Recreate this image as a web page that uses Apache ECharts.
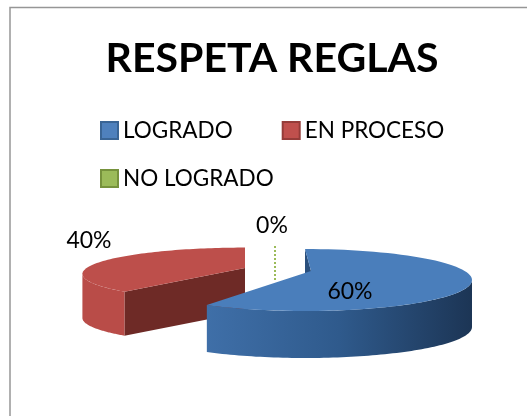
<!DOCTYPE html>
<html>
<head>
<meta charset="utf-8">
<style>
html, body { margin: 0; padding: 0; background: #fff; }
#chart { width: 527px; height: 416px; }
</style>
<script src="https://cdn.jsdelivr.net/npm/echarts@6/dist/echarts.min.js"></script>
</head>
<body>
<div id="chart"></div>
<script>
var categories = ['LOGRADO', 'EN PROCESO', 'NO LOGRADO'];
var percents = [60, 40, 0];

// how each slice is projected (the picture is a fake 3d pie with exploded slices)
var sliceLook = [
    { cx: 305, cy: 280, rx: 167, ry: 31, k: 0, ax: 311, ay: 271, h: 47, z: 3,
      top: '#4a7ebb', side: ['#3f6fa8', '#2f5a8c', '#1c3555'], cut: '#2a4f7c', label: [350, 292] },
    { cx: 245, cy: 266, rx: 155, ry: 24, k: 0.302, ax: 245, ay: 268, h: 44, z: 2,
      top: '#bd4f4b', side: ['#b94c48', '#b94c48', '#b94c48'], cut: '#6e2a26', label: [89, 241] },
    { cx: 275, cy: 280, rx: 0, ry: 35, k: 0, ax: 275, ay: 280, h: 0, z: 1,
      top: '#9bbb59', side: ['#9bbb59', '#9bbb59', '#9bbb59'], cut: '#9bbb59', label: [272, 226] }
];
var legendColors = [
    { fill: '#4f81bd', line: '#3a6595' },
    { fill: '#c0504d', line: '#953c39' },
    { fill: '#9bbb59', line: '#76923c' }
];

var total = percents.reduce(function (a, b) { return a + b; }, 0);

function rimPoint(look, angle) {
    var s = 1 / (1 + look.k * Math.cos(angle));
    return [look.cx + look.rx * Math.sin(angle) * s, look.cy - look.ry * Math.cos(angle) * s];
}

function makeRenderItem(index) {
    var before = 0;
    for (var i = 0; i < index; i++) before += percents[i];
    var look = sliceLook[index];
    return function (params, api) {
        var value = api.value(0);
        var start = before / total * Math.PI * 2;
        var end = (before + value) / total * Math.PI * 2;
        var label = {
            type: 'text',
            style: {
                x: look.label[0], y: look.label[1], text: value + '%',
                fill: '#000', font: '23px Lato', align: 'center', verticalAlign: 'middle'
            },
            z2: 10
        };
        // 0% slice only shows as a dotted leader line
        if (value === 0) {
            var tip = rimPoint(look, start);
            return {
                type: 'group',
                children: [{
                    type: 'line',
                    shape: { x1: look.ax, y1: look.ay, x2: tip[0], y2: tip[1] },
                    style: { stroke: look.top, lineWidth: 2, lineDash: [2, 2] }
                }, label]
            };
        }
        var steps = 80;
        var rim = [];
        for (var n = 0; n <= steps; n++) {
            rim.push(rimPoint(look, start + (end - start) * n / steps));
        }
        // outer wall: only the part of the arc that faces the viewer
        var frontFrom = Math.max(start, Math.acos(-look.k));
        var frontTo = Math.min(end, Math.PI * 2 - Math.acos(-look.k));
        var wallTop = [], wallLow = [];
        for (var m = 0; m <= steps; m++) {
            var p = rimPoint(look, frontFrom + (frontTo - frontFrom) * m / steps);
            wallTop.push(p);
            wallLow.unshift([p[0], p[1] + look.h]);
        }
        var first = rim[0];
        var apex = [look.ax, look.ay];
        return {
            type: 'group',
            children: [{
                type: 'polygon',
                shape: { points: [first, apex, [apex[0], apex[1] + look.h], [first[0], first[1] + look.h]] },
                style: { fill: look.cut }
            }, {
                type: 'polygon',
                shape: { points: wallTop.concat(wallLow) },
                style: {
                    fill: new echarts.graphic.LinearGradient(0, 0, 1, 0, [
                        { offset: 0, color: look.side[0] },
                        { offset: 0.5, color: look.side[1] },
                        { offset: 1, color: look.side[2] }
                    ])
                }
            }, {
                type: 'polygon',
                shape: { points: [apex].concat(rim) },
                style: { fill: look.top }
            }, label]
        };
    };
}

function legendItem(i) {
    return {
        name: categories[i],
        itemStyle: { color: legendColors[i].fill, borderColor: legendColors[i].line, borderWidth: 2 }
    };
}

var legendText = { fontFamily: 'Lato', fontSize: 22.5, color: '#000' };

var myChart = echarts.init(document.getElementById('chart'), null, { renderer: 'canvas' });

var option = {
    animation: false,
    backgroundColor: '#fff',
    title: {
        text: 'RESPETA REGLAS',
        left: 267,
        top: 33,
        textAlign: 'center',
        textStyle: { fontFamily: 'Lato', fontWeight: 'bold', fontSize: 41, color: '#000' }
    },
    legend: [{
        left: 100,
        top: 119,
        padding: 0,
        itemWidth: 17,
        itemHeight: 17,
        itemGap: 49,
        icon: 'rect',
        selectedMode: false,
        textStyle: legendText,
        data: [legendItem(0), legendItem(1)]
    }, {
        left: 100,
        top: 167,
        padding: 0,
        itemWidth: 17,
        itemHeight: 17,
        icon: 'rect',
        selectedMode: false,
        textStyle: legendText,
        data: [legendItem(2)]
    }],
    graphic: [{
        type: 'polyline',
        shape: { points: [[10, 416], [10, 7.5], [527, 7.5]] },
        style: { stroke: '#969696', lineWidth: 1.5, fill: null }
    }],
    series: categories.map(function (name, i) {
        return {
            name: name,
            type: 'custom',
            coordinateSystem: 'none',
            silent: true,
            z: sliceLook[i].z,
            itemStyle: { color: legendColors[i].fill },
            renderItem: makeRenderItem(i),
            data: [[percents[i]]]
        };
    })
};
myChart.setOption(option);
</script>
</body>
</html>
